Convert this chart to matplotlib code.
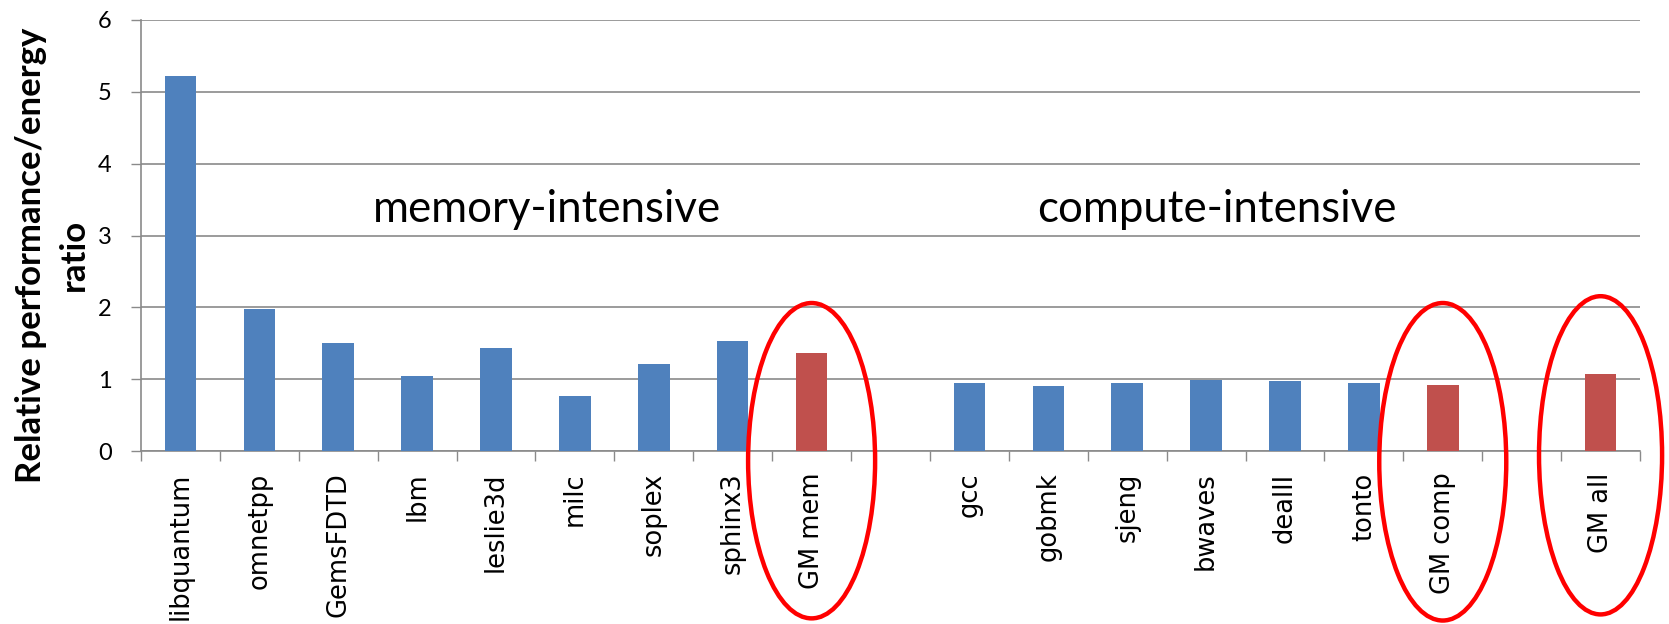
import numpy as np
import matplotlib
matplotlib.use("Agg")
import matplotlib.pyplot as plt
from matplotlib.patches import Ellipse

# ---------------- data ----------------
categories = ["libquantum", "omnetpp", "GemsFDTD", "lbm", "leslie3d", "milc",
              "soplex", "sphinx3", "GM mem", "",
              "gcc", "gobmk", "sjeng", "bwaves", "dealII", "tonto", "GM comp", "",
              "GM all"]
values = [5.22, 1.97, 1.51, 1.05, 1.43, 0.76, 1.215, 1.53, 1.36, np.nan,
          0.95, 0.91, 0.945, 0.99, 0.97, 0.95, 0.92, np.nan,
          1.075]
yticks = [0, 1, 2, 3, 4, 5, 6]
group_labels = ["memory-intensive", "compute-intensive"]
highlighted = ["GM mem", "GM comp", "GM all"]

# ---------------- style ----------------
BLUE = "#4F81BD"
RED = "#C0504D"
GRID = "#8a8a8a"
W, H = 1669, 624

fig = plt.figure(figsize=(W / 100, H / 100), dpi=100)
ax = fig.add_axes([141 / W, 173 / H, (1640 - 141) / W, (451 - 20) / H])

n = len(categories)
xpos = np.arange(n) + 0.5
vals = np.array(values, dtype=float)
mask = ~np.isnan(vals)
colors = [RED if c.startswith("GM") else BLUE for c in categories]
ax.bar(xpos[mask], vals[mask], width=0.4,
       color=[c for c, m in zip(colors, mask) if m], zorder=3)

ax.set_xlim(0, n)
ax.set_ylim(0, 6)

# x ticks: labels at centres, marks at slot boundaries
ax.set_xticks(xpos)
ax.set_xticklabels(categories, rotation=90, fontsize=18.5, family="DejaVu Sans")
ax.tick_params(axis="x", which="major", length=0, pad=15.5)
ax.set_xticks(np.arange(0, n + 1), minor=True)
ax.tick_params(axis="x", which="minor", length=7.2, width=1.0, color=GRID,
               direction="out")

ax.set_yticks(yticks)
ax.set_yticklabels([str(t) for t in yticks], fontsize=17, family="Lato")
ax.tick_params(axis="y", length=7.2, width=1.0, color=GRID, pad=14)

ax.yaxis.grid(True, color=GRID, linewidth=1.2, zorder=0)
ax.set_axisbelow(True)
for s in ["top", "right"]:
    ax.spines[s].set_visible(False)
for s in ["left", "bottom"]:
    ax.spines[s].set_color(GRID)
    ax.spines[s].set_linewidth(1.2)

# group annotations
ax.text(5.15, 3.19, group_labels[0], ha="center", va="baseline",
        fontsize=31.5, family="Lato", color="black", zorder=4)
ax.text(13.63, 3.19, group_labels[1], ha="center", va="baseline",
        fontsize=31.5, family="Lato", color="black", zorder=4)

# red highlight ellipses around the geometric means
ell_specs = {"GM mem": (-0.135, 1.61, 4.39),
             "GM comp": (-0.15, 1.61, 4.42),
             "GM all": (-0.06, 1.56, 4.43)}
for name in highlighted:
    i = categories.index(name)
    cy, w, h = ell_specs[name]
    e = Ellipse((xpos[i], cy), w, h, fill=False, edgecolor="#FF0000",
                linewidth=3.2, clip_on=False, zorder=5)
    ax.add_patch(e)

# y label
fig.text(52 / W, 1 - 255 / H, "Relative performance/energy\nratio",
         rotation=90, ha="center", va="center", multialignment="center",
         fontsize=25, fontweight="bold", family="Lato", linespacing=1.42)

fig.savefig("out.png", dpi=100)
